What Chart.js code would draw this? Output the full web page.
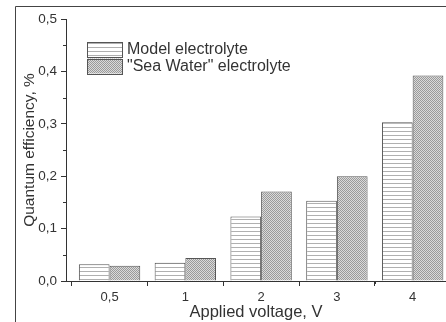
<!DOCTYPE html>
<html>
<head>
<meta charset="utf-8">
<script src="https://cdn.jsdelivr.net/npm/chart.js@4"></script>
<style>
  html, body { margin: 0; padding: 0; background: #fff; overflow: hidden; }
  #wrap { width: 446px; height: 322px; position: relative; }
</style>
</head>
<body>
<div id="wrap"><canvas id="c" width="446" height="322"></canvas></div>
<script>
const categories = ["0,5", "1", "2", "3", "4"];
const modelValues = [0.032, 0.035, 0.123, 0.153, 0.303];
const seaValues = [0.029, 0.044, 0.171, 0.200, 0.392];
const seriesNames = ["Model electrolyte", "\"Sea Water\" electrolyte"];
const yTickValues = [0, 0.1, 0.2, 0.3, 0.4, 0.5];

function makeLinePattern() {
  const c = document.createElement('canvas');
  c.width = 8; c.height = 4;
  const g = c.getContext('2d');
  g.fillStyle = '#ffffff'; g.fillRect(0, 0, 8, 4);
  g.fillStyle = '#b0b0b0'; g.fillRect(0, 3, 8, 1);
  return g.createPattern(c, 'repeat');
}
function makeDotPattern() {
  const c = document.createElement('canvas');
  c.width = 2; c.height = 2;
  const g = c.getContext('2d');
  g.fillStyle = '#dadada'; g.fillRect(0, 0, 2, 2);
  g.fillStyle = '#9a9a9a'; g.fillRect(0, 0, 1, 1); g.fillRect(1, 1, 1, 1);
  return g.createPattern(c, 'repeat');
}
const pLines = makeLinePattern();
const pDots = makeDotPattern();

const framePlugin = {
  id: 'frame',
  afterDraw(chart) {
    const ctx = chart.ctx;
    const xs = chart.scales.x, ys = chart.scales.y;
    ctx.save();
    ctx.strokeStyle = '#444';
    ctx.lineWidth = 1;
    ctx.beginPath();
    ctx.moveTo(15.5, 322); ctx.lineTo(15.5, 6.5); ctx.lineTo(446, 6.5);
    ctx.stroke();
    ctx.strokeStyle = '#333';
    ctx.beginPath();
    for (let v = 0.05; v < 0.5; v += 0.1) {
      const py = Math.round(ys.getPixelForValue(v)) + 0.5;
      ctx.moveTo(xs.left - 3, py); ctx.lineTo(xs.left, py);
    }
    for (let i = 0; i < categories.length; i++) {
      const px = Math.round(xs.getPixelForValue(i + 0.5)) + 0.5;
      if (px < chart.width) { ctx.moveTo(px, ys.bottom); ctx.lineTo(px, ys.bottom + 3); }
    }
    ctx.stroke();
    // legend
    const lx = xs.left + 21, ly = ys.top + 23;
    chart.data.datasets.forEach((ds, i) => {
      const by = ly + i * 16.5;
      ctx.fillStyle = ds.backgroundColor;
      ctx.fillRect(lx, by, 35, 15);
      ctx.strokeStyle = '#555';
      ctx.strokeRect(lx + 0.5, Math.round(by) + 0.5, 35, 15);
      ctx.fillStyle = '#333';
      ctx.font = '16px "Liberation Sans"';
      ctx.textBaseline = 'middle';
      ctx.textAlign = 'left';
      ctx.fillText(ds.label, lx + 40, by + 8);
    });
    ctx.restore();
  }
};

new Chart(document.getElementById('c'), {
  type: 'bar',
  data: {
    datasets: [
      {
        label: seriesNames[0],
        data: modelValues.map((v, i) => ({ x: i, y: v })),
        backgroundColor: pLines,
        borderColor: '#555',
        borderWidth: 1,
        categoryPercentage: 0.81,
        barPercentage: 1.0
      },
      {
        label: seriesNames[1],
        data: seaValues.map((v, i) => ({ x: i, y: v })),
        backgroundColor: pDots,
        borderColor: '#555',
        borderWidth: 1,
        categoryPercentage: 0.81,
        barPercentage: 1.0
      }
    ]
  },
  options: {
    responsive: false,
    animation: false,
    layout: { padding: { left: 20, top: 19, right: 0, bottom: 0 } },
    plugins: {
      legend: { display: false },
      tooltip: { enabled: false }
    },
    scales: {
      x: {
        type: 'linear',
        offset: false,
        min: -0.575,
        max: 4.44,
        afterBuildTicks(scale) { scale.ticks = categories.map((c, i) => ({ value: i })); },
        afterFit(scale) { scale.height = 41; },
        ticks: {
          callback: (v) => categories[v],
          color: '#333',
          font: { family: 'Liberation Sans', size: 13 },
          padding: 4,
          autoSkip: false,
          maxRotation: 0
        },
        grid: { drawOnChartArea: false, tickLength: 5, color: '#333' },
        border: { display: true, color: '#333', width: 1 },
        title: {
          display: true,
          text: 'Applied voltage, V',
          color: '#333',
          font: { family: 'Liberation Sans', size: 16.5 },
          padding: { top: 0, bottom: 0 }
        }
      },
      y: {
        min: 0, max: 0.5,
        afterBuildTicks(scale) { scale.ticks = yTickValues.map(v => ({ value: v })); },
        afterFit(scale) { scale.width = 46; },
        ticks: {
          callback: (v) => v.toFixed(1).replace('.', ','),
          color: '#333',
          font: { family: 'Liberation Sans', size: 13.5 },
          padding: 4
        },
        grid: { drawOnChartArea: false, tickLength: 5, color: '#333' },
        border: { display: true, color: '#333', width: 1 },
        title: {
          display: true,
          text: 'Quantum efficiency, %',
          color: '#333',
          font: { family: 'Liberation Sans', size: 15.5 },
          padding: { top: 0, bottom: 0 }
        }
      }
    }
  },
  plugins: [framePlugin]
});
</script>
</body>
</html>
